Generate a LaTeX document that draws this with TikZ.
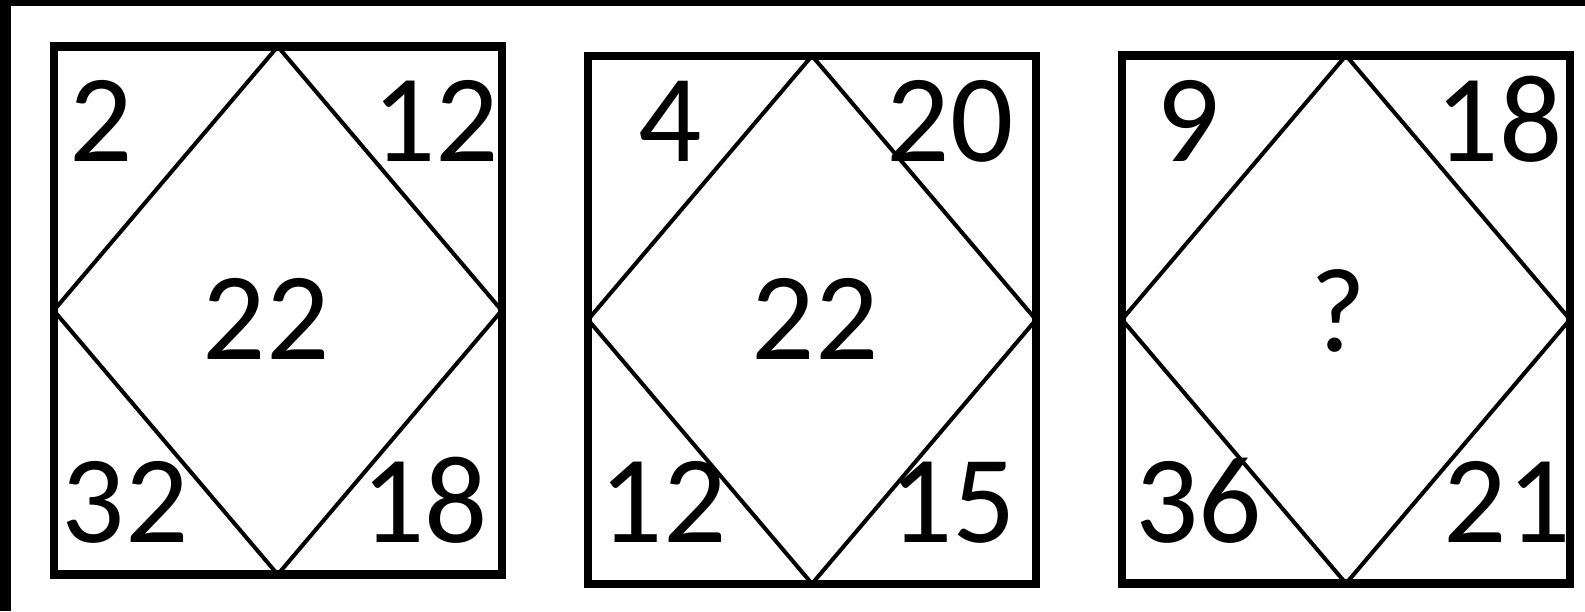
\documentclass[tikz,border=0pt]{standalone}
\usepackage{fontspec}
\setmainfont{Carlito}
\begin{document}
\begin{tikzpicture}[x=0.5pt,y=-0.5pt,
  panel/.style={outer sep=0pt,inner sep=0pt,minimum width=224pt,minimum height=264pt},
  panelline/.style={draw=black,line width=4.25pt},
  rhomb/.style={draw=black,line width=2pt,line join=round},
  num/.style={font=\fontsize{62.5pt}{62.5pt}\selectfont,inner sep=0pt,outer sep=0pt,anchor=base},
  qmark/.style={font=\fontsize{60pt}{60pt}\selectfont,inner sep=0pt,outer sep=0pt,anchor=base}]
\useasboundingbox (0,0) rectangle (1585,611);
\fill[white] (0,0) rectangle (1585,611);
% frame edges (top and left)
\fill[black] (0,0) rectangle (1585,6);
\fill[black] (0,0) rectangle (11,611);
% panels
\node[panel] (b1) at (277.75,310.5) {};
\node[panel] (b2) at (812,319.75) {};
\node[panel] (b3) at (1346,319.5) {};
% diamonds, then panel outlines on top
\foreach \b in {b1,b2,b3}{
  \draw[rhomb] (\b.north) -- (\b.east) -- (\b.south) -- (\b.west) -- cycle;
  \draw[panelline] (\b.north west) rectangle (\b.south east);
}
% panel 1
\node[num] (p1tl) at (101.5,161) {2};
\node[num] (p1tr) at (435.5,161) {12};
\node[num] (p1c)  at (266,359) {22};
\node[num] (p1bl) at (125,542) {32};
\node[num] (p1br) at (424.5,542) {18};
% panel 2
\node[num] (p2tl) at (670.5,161) {4};
\node[num] (p2tr) at (950,161) {20};
\node[num] (p2c)  at (815,359) {22};
\node[num] (p2bl) at (663,542) {12};
\node[num] (p2br) at (952.5,542) {15};
% panel 3
\node[num] (p3tl) at (1188.5,161) {9};
\node[num] (p3tr) at (1499,161) {18};
\node[qmark] (p3c) at (1338,351) {?};
\node[num] (p3bl) at (1198.5,542) {36};
\node[num] (p3br) at (1507,542) {21};
\end{tikzpicture}
\end{document}
